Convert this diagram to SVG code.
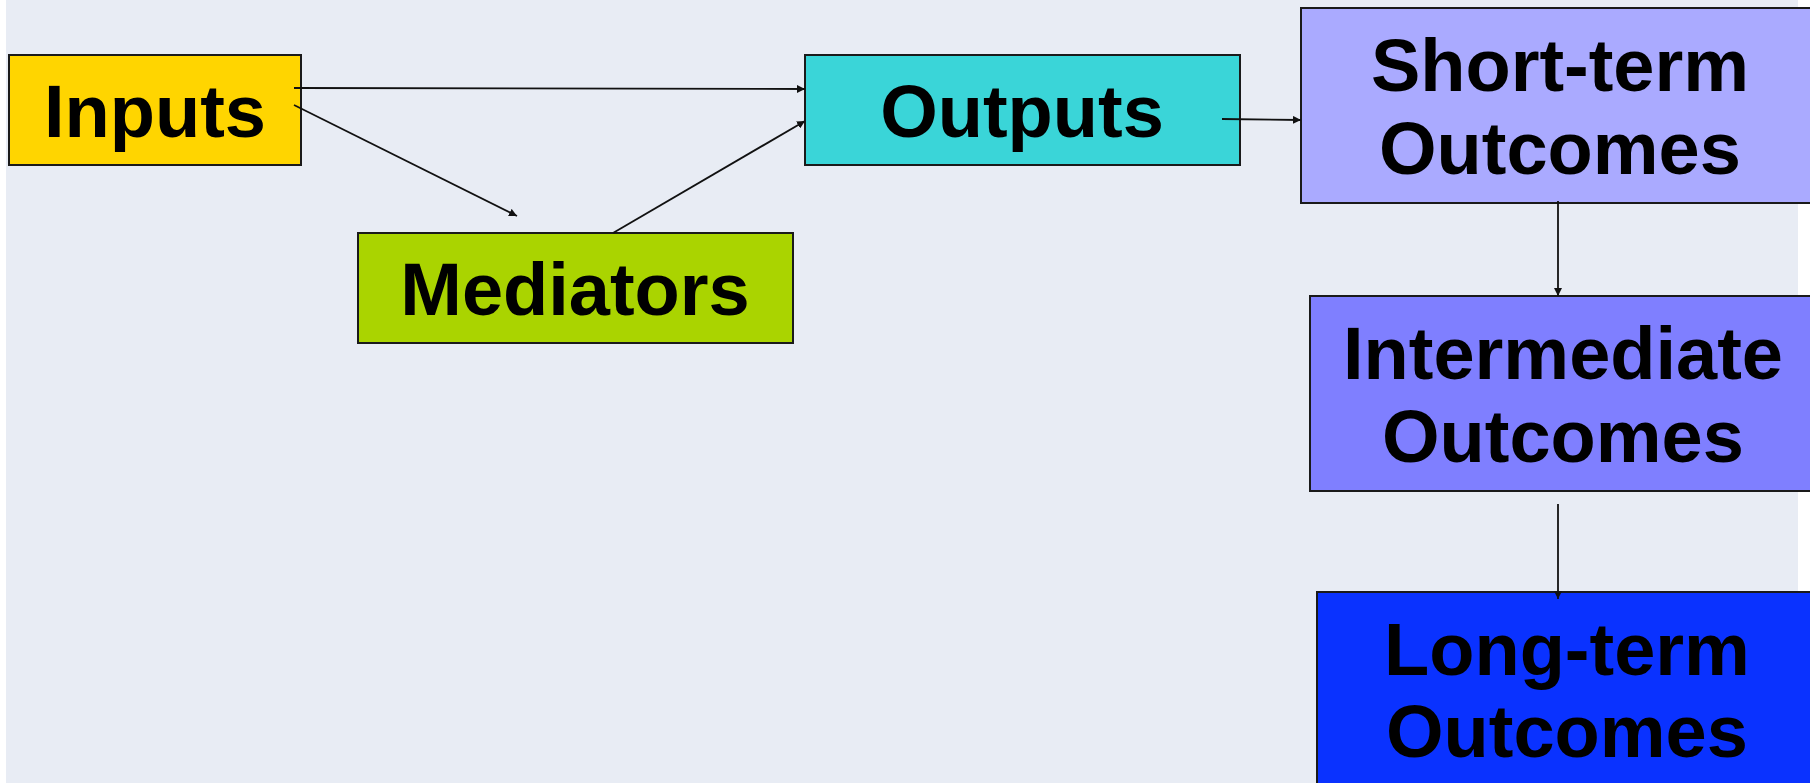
<svg xmlns="http://www.w3.org/2000/svg" width="1810" height="783" viewBox="0 0 1810 783">
  <defs>
    <style>
      .box { stroke: #1a1a1a; stroke-width: 2; }
      .lbl { font-family: "Liberation Sans", Arial, sans-serif; font-weight: bold; font-size: 74px; fill: #000; text-anchor: middle; }
      .conn { stroke: #111; stroke-width: 1.8; fill: none; marker-end: url(#arr); }
    </style>
    <marker id="arr" viewBox="0 0 10 10" refX="10" refY="5" markerWidth="8" markerHeight="8" markerUnits="userSpaceOnUse" orient="auto">
      <path d="M0,0 L10,5 L0,10 z" fill="#111"/>
    </marker>
  </defs>
  <rect x="0" y="0" width="1810" height="783" fill="#ffffff"/>
  <rect x="6" y="0" width="1792" height="783" fill="#e8ecf4"/>

  <g id="inputs">
    <rect class="box" x="9" y="55" width="292" height="110" fill="#ffd500"/>
    <text class="lbl" x="155" y="137">Inputs</text>
  </g>
  <g id="mediators">
    <rect class="box" x="358" y="233" width="435" height="110" fill="#aad400"/>
    <text class="lbl" x="575" y="315">Mediators</text>
  </g>
  <g id="outputs">
    <rect class="box" x="805" y="55" width="435" height="110" fill="#3ad5d8"/>
    <text class="lbl" x="1022" y="137">Outputs</text>
  </g>
  <g id="short-term">
    <rect class="box" x="1301" y="8" width="520" height="195" fill="#aaaaff"/>
    <text class="lbl" x="1560" y="91">Short-term</text>
    <text class="lbl" x="1560" y="174">Outcomes</text>
  </g>
  <g id="intermediate">
    <rect class="box" x="1310" y="296" width="511" height="195" fill="#7f7fff"/>
    <text class="lbl" x="1563" y="379">Intermediate</text>
    <text class="lbl" x="1563" y="462">Outcomes</text>
  </g>
  <g id="long-term">
    <rect class="box" x="1317" y="592" width="504" height="200" fill="#0a32ff"/>
    <text class="lbl" x="1567" y="675">Long-term</text>
    <text class="lbl" x="1567" y="757">Outcomes</text>
  </g>

  <g id="connectors">
    <line class="conn" x1="294" y1="88" x2="805" y2="89"/>
    <line class="conn" x1="294" y1="105" x2="517" y2="216"/>
    <line class="conn" x1="613" y1="233" x2="805" y2="121"/>
    <line class="conn" x1="1222" y1="119" x2="1301" y2="120"/>
    <line class="conn" x1="1558" y1="201" x2="1558" y2="296"/>
    <line class="conn" x1="1558" y1="504" x2="1558" y2="599"/>
  </g>
</svg>
